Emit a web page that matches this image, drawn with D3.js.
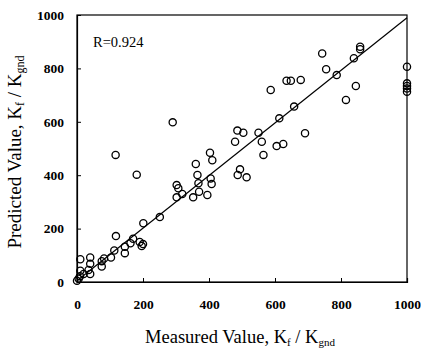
<!DOCTYPE html>
<html>
<head>
<meta charset="utf-8">
<script src="https://cdn.jsdelivr.net/npm/d3@7"></script>
<style>
  html, body { margin: 0; padding: 0; background: #fff; }
  svg { display: block; }
  text { font-family: "Liberation Serif", "Times New Roman", serif; fill: #000; }
</style>
</head>
<body>
<svg id="chart" width="421" height="350"></svg>
<script>
// Measured values (x) and predicted values (y)
const measured = [0,5,9,20,10,35,40,10,40,40,75,75,82,103,113,145,145,162,170,190,200,196,118,201,251,
  117,181,302,307,302,319,352,370,368,395,405,408,365,360,403,410,290,487,514,494,479,486,504,560,565,
  550,605,625,613,658,691,587,635,648,678,743,755,787,815,845,839,858,858,1000,1000,1000,1000,1000];
const predicted = [5,12,22,30,42,45,30,85,92,68,58,78,88,92,118,108,132,145,162,150,142,135,172,220,243,
  476,402,363,351,317,330,317,338,370,326,388,367,401,442,484,456,598,401,392,422,525,567,559,525,476,
  559,509,517,613,657,557,719,754,754,757,856,797,775,682,734,838,872,881,806,744,734,725,713];
const xTicks = [0, 200, 400, 600, 800, 1000];
const yTicks = [0, 200, 400, 600, 800, 1000];
const fitLine = [[0, 5], [1000, 990]];
const rLabel = "R=0.924";

const svg = d3.select("#chart");
const x = d3.scaleLinear().domain([0, 1000]).range([77, 407]);
const y = d3.scaleLinear().domain([0, 1000]).range([282, 15]);

// frame
svg.append("rect")
  .attr("x", x(0)).attr("y", y(1000))
  .attr("width", x(1000) - x(0)).attr("height", y(0) - y(1000))
  .attr("fill", "none").attr("stroke", "#000").attr("stroke-width", 1.2);

// axes with inward ticks
const xAxis = d3.axisBottom(x).tickValues(xTicks).tickSize(-4).tickPadding(17).tickFormat(d3.format("d"));
const yAxis = d3.axisLeft(y).tickValues(yTicks).tickSize(-4).tickPadding(13).tickFormat(d3.format("d"));

const gx = svg.append("g").attr("transform", `translate(0,${y(0)})`).call(xAxis);
const gy = svg.append("g").attr("transform", `translate(${x(0)},0)`).call(yAxis);
[gx, gy].forEach(g => {
  g.select(".domain").attr("stroke", "#000").attr("stroke-width", 1.2);
  g.selectAll(".tick line").attr("stroke", "#000").attr("stroke-width", 1);
  g.selectAll(".tick text").attr("font-family", "Liberation Serif, serif")
    .attr("font-size", 13.5).attr("font-weight", "bold").attr("fill", "#000");
});

// fit line
svg.append("line")
  .attr("x1", x(fitLine[0][0])).attr("y1", y(fitLine[0][1]))
  .attr("x2", x(fitLine[1][0])).attr("y2", y(fitLine[1][1]))
  .attr("stroke", "#000").attr("stroke-width", 1.2);

// points
svg.append("g").selectAll("circle")
  .data(measured.map((m, i) => [m, predicted[i]]))
  .join("circle")
  .attr("cx", d => x(d[0])).attr("cy", d => y(d[1]))
  .attr("r", 3.6)
  .attr("fill", "none").attr("stroke", "#000").attr("stroke-width", 1.3);

// R label
svg.append("text").attr("x", 93).attr("y", 47)
  .attr("font-size", 14.5).text(rLabel);

// x title
const xt = svg.append("text").attr("x", 240).attr("y", 343)
  .attr("text-anchor", "middle").attr("font-size", 18.5);
xt.append("tspan").text("Measured Value, K");
xt.append("tspan").attr("font-size", 11).attr("dy", 3).text("f");
xt.append("tspan").attr("dy", -3).text(" / K");
xt.append("tspan").attr("font-size", 11).attr("dy", 3).text("gnd");

// y title
const yt = svg.append("text")
  .attr("transform", `translate(21,${152}) rotate(-90)`)
  .attr("text-anchor", "middle").attr("font-size", 19);
yt.append("tspan").text("Predicted Value, K");
yt.append("tspan").attr("font-size", 12).attr("dy", 3).text("f");
yt.append("tspan").attr("dy", -3).text(" / K");
yt.append("tspan").attr("font-size", 12).attr("dy", 3).text("gnd");
</script>
</body>
</html>
